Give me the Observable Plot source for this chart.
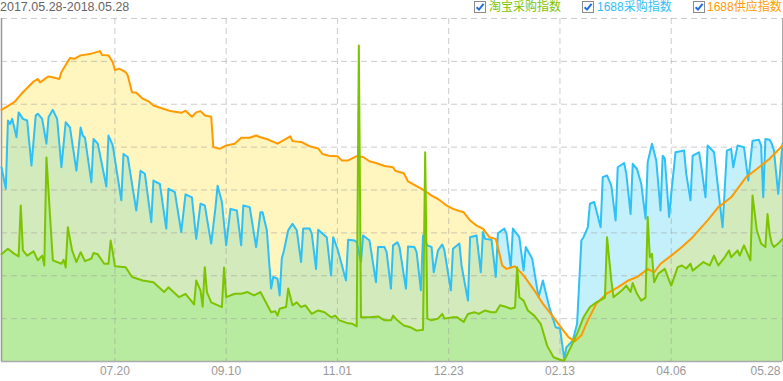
<!DOCTYPE html>
<html>
<head>
<meta charset="utf-8">
<script src="https://cdn.jsdelivr.net/npm/d3@7"></script>
<script src="https://cdn.jsdelivr.net/npm/@observablehq/plot@0.6"></script>
<style>
  html, body { margin: 0; padding: 0; background: #fff; }
  #wrap { width: 783px; font-family: "Liberation Sans", Arial, "Noto Sans CJK SC", sans-serif; }
  #head { position: relative; height: 17px; width: 783px; overflow: hidden; }
  #title { position: absolute; left: 0; top: 0px; font-size: 12.5px; color: #666; white-space: nowrap; }
  .lg { position: absolute; top: 0px; font-size: 12px; white-space: nowrap; line-height: 14px; }
  .cb { position: absolute; top: 1px; }
  #chart svg { display: block; }
</style>
</head>
<body>
<div id="wrap">
  <div id="head"></div>
  <div id="chart"></div>
</div>
<script>
// ---- data (day offset from 2017-05-28, index value) ----
const startDate = "2017-05-28";
const endDate = "2018-05-28";
const tickDates = ["2017-07-20", "2017-09-10", "2017-11-01", "2017-12-23", "2018-02-13", "2018-04-06", "2018-05-28"];
const tickLabels = ["07.20", "09.10", "11.01", "12.23", "02.13", "04.06", "05.28"];
const seriesNames = ["淘宝采购指数", "1688采购指数", "1688供应指数"];
const seriesColors = ["#7dc400", "#2ec0f6", "#ff9a00"];

// 1688供应指数 (orange)
const supplyDays = [0,6,10,15,17,18,22,24,27,28,32,34,37,42,46,47,50,52,53,55,58,59,61,63,66,69,71,76,79,84,86,89,91,93,95,98,99,102,105,109,112,116,119,121,124,129,135,136,140,144,148,150,153,157,159,162,166,169,172,175,179,183,184,188,190,194,197,201,204,208,211,214,216,219,222,225,228,231,232,234,236,240,244,249,253,258,262,265,268,271,274,278,283,288,293,297,300,302,305,308,313,318,323,330,335,341,348,353,359,365];
const supplyVals = [5.87,6.05,6.28,6.53,6.59,6.51,6.65,6.63,6.59,6.75,7.08,7.06,7.14,7.18,7.24,7.15,7.14,6.98,6.80,6.83,6.75,6.67,6.28,6.27,6.13,6.06,5.97,5.89,5.84,5.80,5.85,5.71,5.81,5.84,5.74,5.71,5.00,4.96,5.04,5.08,5.22,5.22,5.27,5.23,5.19,5.08,5.25,5.14,5.12,5.02,4.97,4.84,4.80,4.79,4.69,4.69,4.79,4.77,4.67,4.63,4.56,4.53,4.45,4.39,4.20,4.09,4.01,3.87,3.79,3.64,3.56,3.51,3.48,3.29,3.17,3.10,2.90,2.86,2.67,2.24,2.16,2.22,2.01,1.66,1.35,1.03,0.76,0.57,0.47,0.61,0.96,1.35,1.59,1.73,1.89,1.97,2.08,2.16,2.08,2.28,2.47,2.67,2.90,3.29,3.60,3.83,4.30,4.49,4.73,5.04];

// 1688采购指数 (blue)
const purchaseDays = [0,2,3,4,5,7,8,10,12,14,16,17,19,21,22,24,26,28,30,32,35,37,38,39,42,43,45,49,50,52,56,57,59,63,65,67,70,71,74,77,78,81,84,86,89,91,93,95,98,100,101,103,105,107,110,112,113,116,119,121,122,124,126,127,129,130,131,132,134,136,138,140,141,144,145,147,148,152,154,155,157,161,162,165,166,168,169,172,175,176,179,180,182,183,185,186,189,190,193,194,196,197,199,201,202,204,206,207,210,211,214,215,218,219,222,224,225,226,229,231,232,235,236,238,239,242,244,245,248,251,253,256,259,261,262,263,264,267,269,271,272,274,275,277,280,281,283,285,287,288,291,292,294,295,297,299,301,302,304,306,308,309,310,312,313,315,319,320,322,323,326,327,329,330,333,337,339,341,342,344,347,349,351,354,355,356,357,359,360,361,363,365];
const purchaseVals = [4.53,4.03,5.62,5.54,5.66,5.23,5.81,5.66,5.62,4.57,5.74,5.78,5.66,5.08,5.70,5.87,5.66,4.53,5.58,5.46,4.45,5.46,5.27,5.22,4.18,5.19,5.08,4.08,5.27,5.04,3.76,4.84,4.77,3.52,4.45,4.38,3.25,4.22,4.14,3.10,4.03,3.95,3.02,3.90,3.83,2.86,3.68,3.64,2.75,3.59,4.10,3.72,2.71,3.56,3.52,2.71,3.64,3.60,2.67,3.48,3.48,3.06,1.70,1.97,1.93,1.54,2.40,2.59,3.06,3.21,3.06,2.32,3.10,3.10,2.98,2.16,3.07,2.90,2.01,2.90,2.63,1.89,2.84,2.82,2.78,2.32,2.94,2.82,1.85,2.67,2.67,2.55,1.70,2.71,2.78,2.67,1.70,2.68,2.67,2.55,1.66,2.94,2.71,2.67,2.08,2.59,2.73,2.59,1.66,2.63,2.75,2.24,1.42,2.90,2.94,2.08,3.02,2.86,2.84,1.97,2.99,3.10,2.98,2.19,3.10,2.90,2.12,2.67,2.40,1.50,1.89,1.27,0.80,0.77,0.41,0.06,0.33,0.49,0.88,2.82,2.90,3.13,3.68,3.72,3.13,4.30,4.34,4.10,3.29,4.53,4.63,4.38,3.44,4.61,4.49,4.14,3.33,4.65,5.08,4.69,3.52,4.80,4.73,3.37,3.91,4.88,4.92,4.38,3.76,4.80,4.88,4.57,3.83,5.04,4.88,3.13,4.92,4.96,4.53,5.04,5.00,4.22,5.15,5.17,5.04,3.83,5.19,5.17,5.08,4.92,3.91,5.08];

// 淘宝采购指数 (green)
const taobaoDays = [0,3,6,8,9,10,12,15,17,19,20,21,23,24,28,29,30,31,33,35,37,39,42,43,45,48,50,51,52,53,58,61,66,71,76,78,83,86,90,91,93,94,95,96,98,103,104,105,109,112,115,118,121,126,128,129,130,133,134,136,138,140,142,145,148,151,154,156,158,162,164,166,167,168,172,176,179,182,183,185,188,191,194,197,198,199,201,204,206,207,211,213,216,218,221,223,226,229,231,233,236,238,240,241,242,244,246,249,252,255,258,261,263,266,269,272,275,278,281,282,283,285,286,290,292,294,295,297,299,301,302,303,304,305,307,310,312,313,316,318,320,322,323,326,328,331,333,335,338,340,341,344,345,347,350,351,353,355,357,358,359,360,361,363,365];
const taobaoVals = [2.50,2.63,2.51,2.45,3.64,2.59,2.47,2.57,2.36,2.47,2.24,4.76,3.13,2.36,2.28,2.37,2.19,3.13,2.59,2.32,2.55,2.34,2.40,2.53,2.50,2.28,2.28,2.82,2.55,2.22,2.20,1.97,1.89,1.85,1.62,1.73,1.50,1.58,1.33,1.89,1.66,1.28,2.20,1.62,1.38,1.27,2.19,1.50,1.58,1.58,1.62,1.54,1.62,1.15,1.17,1.07,1.23,1.27,1.70,1.31,1.38,1.27,1.31,1.11,1.19,1.15,1.03,1.07,0.96,0.89,0.88,0.82,7.37,1.03,1.03,1.05,0.96,0.96,1.07,0.96,0.84,0.80,0.72,0.74,4.88,1.00,0.96,1.00,1.11,1.00,1.03,1.03,0.92,1.11,1.15,1.11,1.19,1.15,1.15,1.31,1.27,1.23,1.26,2.20,1.50,1.42,1.19,1.07,0.88,0.37,0.10,0.04,0.02,0.33,0.65,1.03,1.27,1.38,1.46,1.49,2.90,1.89,1.50,1.66,1.77,1.62,1.83,1.58,1.42,1.49,3.37,2.43,2.51,1.85,2.05,2.16,1.89,1.77,2.20,2.24,2.17,2.28,2.12,2.24,2.32,2.24,2.47,2.24,2.43,2.59,2.43,2.59,2.47,2.71,2.36,3.87,3.06,2.75,2.67,3.44,2.98,2.75,2.67,2.75,2.86];

const yGrid = [1, 2, 3, 4, 5, 6, 7, 8];

// ---- build ----
const t0 = Date.parse(startDate + "T00:00:00Z");
const toDate = d => new Date(t0 + d * 864e5);
const mk = (days, vals) => days.map((d, i) => ({date: toDate(d), v: vals[i]}));
const supply = mk(supplyDays, supplyVals);
const purchase = mk(purchaseDays, purchaseVals);
const taobao = mk(taobaoDays, taobaoVals);
const ticks = tickDates.map(s => new Date(s + "T00:00:00Z"));
const labelOf = d => tickLabels[ticks.findIndex(t => +t === +d)];

// header
const head = document.getElementById("head");
head.innerHTML = `<span id="title">${startDate.replace(/-/g, ".")}-${endDate.replace(/-/g, ".")}</span>`;
const boxX = [474, 582, 693];
const textX = [489, 597, 707];
seriesNames.forEach((name, i) => {
  head.insertAdjacentHTML("beforeend",
    `<svg class="cb" style="left:${boxX[i]}px" width="12" height="12"><rect x="0.5" y="0.5" width="11" height="11" fill="#fff" stroke="#8a8a8a"/><path d="M2.6 6.2 L5 8.6 L9.6 2.8" stroke="#1f6fe0" stroke-width="2" fill="none"/></svg>` +
    `<span class="lg" style="left:${textX[i]}px;color:${seriesColors[i]}">${name}</span>`);
});

const chart = Plot.plot({
  width: 783,
  height: 364,
  marginTop: 1,
  marginBottom: 20,
  marginLeft: 1,
  marginRight: 1,
  style: {fontFamily: "'Liberation Sans', Arial, sans-serif", fontSize: "12px", color: "#999", background: "#fff"},
  x: {type: "utc", domain: [toDate(0), new Date(endDate + "T00:00:00Z")]},
  y: {domain: [0, 8], axis: null},
  marks: [
    Plot.areaY(purchase, {x: "date", y: "v", fill: "#c4f0fb", curve: "linear"}),
    Plot.areaY(supply, {x: "date", y: "v", fill: "#ffd700", fillOpacity: 0.25, curve: "linear"}),
    Plot.areaY(taobao, {x: "date", y: "v", fill: "#b8eba0", curve: "linear"}),
    Plot.ruleY(yGrid, {stroke: "#9a9a9a", strokeOpacity: 0.5, strokeDasharray: "6,4"}),
    Plot.ruleX(ticks.slice(0, -1), {stroke: "#9a9a9a", strokeOpacity: 0.5, strokeDasharray: "6,4"}),
    Plot.ruleX(ticks.slice(-1), {stroke: "#aaa", strokeWidth: 1}),
    Plot.ruleX([toDate(0)], {stroke: "#999", strokeWidth: 1.5}),
    Plot.ruleY([0], {stroke: "#aaa", strokeWidth: 1.5}),
    Plot.line(purchase, {x: "date", y: "v", stroke: seriesColors[1], strokeWidth: 2, curve: "linear"}),
    Plot.line(supply, {x: "date", y: "v", stroke: seriesColors[2], strokeWidth: 2, curve: "linear"}),
    Plot.line(taobao, {x: "date", y: "v", stroke: seriesColors[0], strokeWidth: 2, curve: "linear"}),
    Plot.axisX({
      ticks: ticks.slice(0, -1),
      tickSize: 0,
      tickPadding: 5,
      fontSize: 12,
      tickFormat: labelOf
    }),
    Plot.axisX({
      ticks: ticks.slice(-1),
      tickSize: 0,
      tickPadding: 5,
      fontSize: 12,
      textAnchor: "end",
      dx: -2,
      tickFormat: labelOf
    })
  ]
});
document.getElementById("chart").appendChild(chart);
</script>
</body>
</html>
